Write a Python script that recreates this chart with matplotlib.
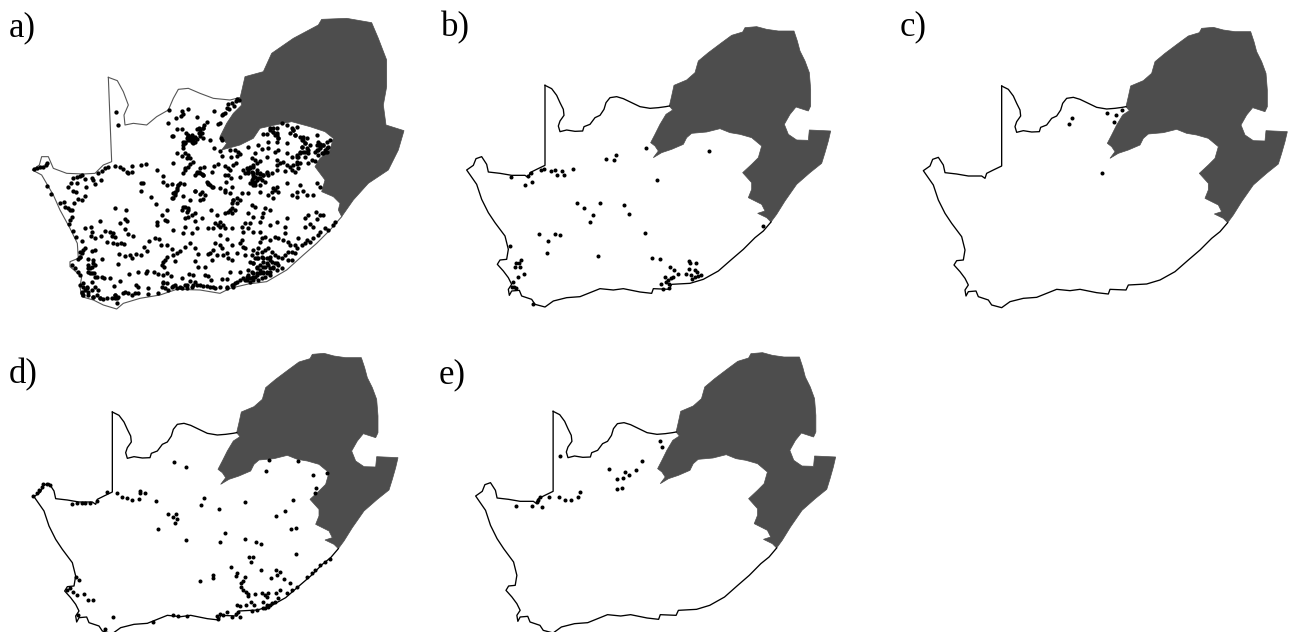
import numpy as np
import matplotlib
matplotlib.use("Agg")
import matplotlib.pyplot as plt

plt.rcParams['font.family'] = ['Liberation Serif', 'DejaVu Serif']

DARK = '#4d4d4d'

# map outline (units are 1/3 px)
north_border = [(365,228),(385,238),(400,258),(410,280),(420,300),(422,318),(410,335),(405,350),(410,367),(430,362),(455,366),(478,365),(482,352),(500,345),(515,325),(530,318),(542,300),(548,280),(560,265),(580,262),(600,268),(625,280),(650,292),(680,297),(705,295),(727,292),(738,290)]
coast = [(1043,638),(1020,665),(995,685),(960,720),(925,750),(885,785),(840,810),(800,822),(745,825),(738,840),(690,838),(685,852),(650,848),(600,838),(570,842),(530,838),(500,850),(470,862),(430,865),(390,875),(365,893),(335,885),(325,870),(295,860),(288,843),(265,845),(258,858),(255,840),(265,825),(255,805),(240,785),(222,765),(230,752),(250,750),(255,720),(245,680),(215,640),(195,610),(175,570),(160,525),(130,482),(150,468),(158,448),(175,442),(190,465),(195,488),(230,492),(265,498),(305,498),(315,505),(320,490),(340,480),(365,468),(365,228)]
dark_region = [(738,290),(745,260),(752,228),(790,212),(815,190),(825,155),(855,130),(895,100),(925,78),(958,68),(965,55),(1000,52),(1030,60),(1065,65),(1112,65),(1122,95),(1130,125),(1145,155),(1158,190),(1162,240),(1162,290),(1155,305),(1118,293),(1100,315),(1083,345),(1095,375),(1120,392),(1155,393),(1158,362),(1222,365),(1215,395),(1205,430),(1195,462),(1160,490),(1120,525),(1085,575),(1060,615),(1043,638),(1030,625),(1003,612),(1025,605),(1015,585),(975,565),(985,540),(985,520),(958,490),(985,465),(1005,445),(1015,410),(985,385),(950,375),(920,370),(890,358),(850,368),(805,372),(790,385),(780,405),(745,420),(715,430),(690,445),(705,425),(695,410),(682,400),(695,375),(710,345),(728,315),(748,302)]

# panel a was drawn from a different base map
north_border_a = [(325,202),(352,212),(370,245),(385,285),(372,315),(375,345),(400,340),(440,345),(470,320),(505,300),(520,265),(535,238),(565,235),(600,250),(640,265),(690,270),(722,262)]
coast_a = [(1025,620),(990,660),(950,700),(910,735),(860,780),(800,815),(745,822),(690,835),(660,850),(600,840),(530,838),(480,855),(420,865),(370,880),(350,897),(310,885),(280,870),(245,860),(240,830),(245,800),(210,770),(210,755),(235,745),(232,700),(210,655),(180,600),(160,555),(125,495),(97,480),(118,465),(125,440),(145,440),(160,475),(200,490),(250,492),(285,490),(310,465),(335,455),(325,202)]
dark_region_a = [(720,265),(735,200),(790,185),(815,130),(880,85),(955,45),(965,28),(1040,25),(1115,38),(1135,85),(1160,150),(1160,230),(1150,285),(1158,345),(1212,362),(1195,420),(1165,480),(1105,520),(1060,570),(1025,620),(1015,600),(1020,580),(1000,560),(965,545),(975,510),(945,470),(960,445),(990,420),(1000,385),(975,365),(930,350),(875,335),(825,345),(780,355),(760,385),(720,405),(665,420),(680,400),(660,380),(680,340),(700,310),(725,285)]

# panel a records, read in three crops
a_top_left = [(348,305),(355,345)]
a_north = [(232,42),(238,45),(228,48),(215,55),(205,58),(222,62),(200,70),(207,73),(195,85),(185,90),(190,88),(162,77),(83,73),(65,78),(68,88),(62,92),(48,99),(27,75),(25,113),(110,97),(140,110),(133,120),(128,128),(118,128),(110,133),(125,145),(120,152),(130,160),(85,150),(78,143),(90,155),(95,160),(100,155),(105,160),(85,165),(95,170),(105,170),(75,172),(70,180),(68,188),(50,133),(65,133),(35,153),(40,153),(150,165),(180,115),(175,118),(183,158),(187,165),(162,190),(180,197),(210,195),(225,195),(235,200),(240,207),(232,213),(212,215),(185,213),(52,205),(65,212),(75,205),(85,210),(90,218),(82,218),(38,233),(100,230),(90,237),(83,245),(75,255),(75,250),(120,250),(133,245),(110,260),(118,262),(125,268),(130,270),(105,270),(70,265),(10,272),(8,292),(155,262),(162,242),(175,237),(195,243),(205,250),(210,255),(228,235),(220,240),(195,270),(205,270),(212,280),(198,290),(140,290),(150,300),(160,305),(145,297),(60,295),(55,300),(50,310),(45,320),(40,325),(72,298),(20,300),(35,298),(105,318),(125,320),(180,310),(195,315),(215,305),(240,275),
           (250,255),(262,250),(270,245),(280,240),(290,235),(255,265),(265,262),(275,260),(280,270),(290,265),(300,268),(285,275),(295,280),(305,285),(275,285),(285,290),(270,295),(280,300),(310,270),(320,260),(325,270),(335,265),(315,290),(300,300),(340,310),(335,320),(350,305),(380,295),(350,240),(360,235),(370,232),(380,240),(390,245),(400,240),(410,238),(420,235),(395,255),(405,260),(415,250),(375,258),(350,255),
           (310,148),(320,147),(330,130),(340,130),(350,128),(340,140),(345,150),(352,145),(355,160),(350,170),(365,115),(380,120),(395,128),(400,135),(405,150),(390,145),(380,175),(420,155),(430,165),(435,175),(425,185),(430,200),(420,205),(440,190),(445,205),(435,215),(415,215),(410,215),(440,160),(470,150),(475,170),(480,178),(490,180),(500,170),(505,185),(495,195),(490,205),(480,190),(470,195),(475,210),(500,200),(510,165),(455,225),(465,228),(445,235),(325,170),(325,190),(305,192),(295,180),(285,205),(265,185),(285,225),(275,218),(300,228),(320,215),(345,200),(350,225),(355,195),(380,205),(395,215),(410,232),(470,295),(480,305),(420,300),(410,322),(430,318),(345,315)]
a_west = [(50,38),(48,45),(40,50),(30,52),(20,55),(12,58),(130,85),(140,82),(150,78),(155,75),(122,100),(115,112),(140,100),(165,88),(185,85),(190,90),(212,90),(195,102),(205,70),(215,62),(225,55),(235,50),(255,47),(270,52),(280,58),(290,65),(295,70),(305,65),(305,48),(332,45),(347,43),(382,60),(50,108),(62,132),(130,122),(138,127),(168,112),(165,138),(155,150),(143,148),(132,160),(103,155),(90,158),(105,170),(115,175),(120,180),(127,180),(125,200),(120,210),(118,222),(128,243),(138,262),(155,272),(183,232),(185,245),(165,235),(183,258),(195,265),(212,258),(210,212),(225,243),(240,245),(250,250),(245,258),(255,262),(232,277),(250,278),(262,283),(272,278),(283,282),(270,218),(285,208),(290,212),(285,237),(295,252),(310,257),(255,173),(287,180),(333,100),(338,100),(333,122),(363,140),(377,162),(358,272),(375,265),(388,267),(342,290),(350,303),(394,285),(412,285),(165,295),(160,300),(155,310),(150,320),(145,328),(195,300),(185,303),(190,330),(215,328),(175,327),(268,312),(285,318),(300,315),(305,325),(318,312),(332,315),(263,342),
          (125,345),(135,355),(145,365),(150,375),(175,345),(180,355),(175,365),(185,370),(190,340),(195,345),(193,370),(200,380),(215,380),(222,385),(185,395),(240,385),(150,405),(160,410),(170,415),(155,425),(160,435),(175,425),(185,420),(195,410),(205,420),(200,435),(210,445),(220,447),(230,445),(190,440),(253,407),(270,393),(298,373),(323,367),(347,370),(350,363),(372,365),(385,372),(400,375),(410,370),(403,352),(395,345),(255,435),(255,445),(278,430),(285,425),(295,430),(305,435),(315,430),(325,430),(318,405),(325,410),(355,415),(355,432),(385,430),(262,460),(245,443),(400,400),(395,410),(405,415),(415,420),(380,225),(380,215),(395,195),(405,210),(410,213),(412,180),(410,320),(405,330),(400,335)]
a_south = [(10,120),(45,112),(40,128),(65,128),(80,115),(115,115),(55,80),(45,85),(75,70),(75,92),(95,83),(35,60),(40,50),(55,55),(50,65),(60,30),(90,30),(100,28),(90,12),(105,15),(75,3),(15,15),(5,25),(40,18),(122,60),(140,75),(165,70),(175,65),(185,55),(185,40),(190,30),(200,25),(180,10),(165,5),(215,8),(235,10),(210,30),(245,45),(255,50),(285,55),(300,60),(235,70),(250,80),(280,70),(275,80),(270,95),(320,95),(300,105),(345,110),(350,85),(325,5),(310,25),(270,5),(295,15),(365,15),(380,20),(410,15),(430,15),(415,75),(405,85),(438,65),(450,75),(460,75),(440,88),(420,102),(405,112),(430,112),(495,95),(490,105),(475,120),(465,115),(450,125),(445,135),(430,145),(420,155),(410,150),(405,160),(395,165),(385,145),(375,165),(380,175),(375,190),(365,185),(360,165),(355,155),(340,150),(345,130),(325,145),(315,140),(300,150),(270,155),(275,145),(285,140),(250,125),(270,125),(220,125),(215,110),(225,100),(240,98),(235,115),(150,95),(160,105),(145,105),(135,100),(150,110),(165,115),(185,115),(130,115),(150,135),(170,148),(185,165),(210,160),(215,150),(220,170),(225,175),(135,158),(150,165),(155,175),(130,180),(120,190),(115,192),(200,190),(170,188),(225,195),(140,195),(160,195),
           (60,158),(75,175),(45,170),(30,183),(20,188),(10,195),(5,178),(15,212),(75,212),(85,192),(125,210),(105,230),(85,232),(175,205),(185,210),(180,245),(210,245),(155,268),(172,268),(122,270),(105,255),(70,255),(58,252),(35,263),(3,258),(75,275),(60,272),(115,258),
           (5,290),(20,295),(35,295),(50,293),(65,290),(80,285),(100,287),(120,290),(135,295),(170,295),(185,285),(190,290),(195,280),(200,275),(15,285),(45,285),(210,270),(220,265),(225,270),(235,255),(245,265),(255,260),(265,270),(235,240),(245,245),
           (240,215),(250,220),(255,205),(260,190),(250,180),(265,175),(275,185),(285,180),(295,175),(305,185),(315,195),(325,200),(335,205),(345,195),(355,210),(365,210),(355,185),(260,235),(270,225),(280,215),(290,205),(300,200),(285,230),(295,225),(305,215),(315,220),(325,225),(335,235),(320,240),(310,235),(300,245),(290,250),(280,245),(270,250),(260,255),(250,250),(300,255),(285,260),(275,265),(250,270),(240,275),(230,262),(265,205),(275,200),(245,195)]
# the dense blobs of panel a, in the panel's own units
a_blobs = [(565,378),(575,375),(585,380),(570,390),(580,392),(590,388),(560,385),(578,400),(555,400),(550,395),(600,360),(610,355),(598,370),
           (905,410),(915,400),(925,420),(900,425),(890,435),(915,425),(930,405),(905,390),(910,380),(880,360),(885,375),(890,350),(960,410),(970,405),(980,415),(955,420),(965,430),(975,425),(945,425),(950,405),(820,365),(830,375),(810,360),(835,385),
           (760,490),(770,480),(750,475),(745,490),(780,490),(790,495),(760,505),(770,510),(780,505),(755,520),(765,525),(800,490),(760,470),(745,480),
           (790,770),(800,760),(810,775),(820,770),(780,780),(770,790),(790,790),(800,785),(760,800),(750,805),(740,810),(770,770),(830,760),(760,760),(770,745),(790,745),(810,750),
           (245,850),(255,840),(260,830),(250,820),(265,855),(280,860),(300,865),(345,855),(355,860),(270,790),(275,770),(265,775),(285,800),(240,740),(240,725),(350,865),
           (540,830),(560,825),(580,825),(600,825),(620,828),(640,830),(660,832),(680,830),(520,828),(500,820),(490,815),(700,825),
           (700,570),(710,580),(690,600),(705,600),(695,610),(530,540),(525,550),(535,525),(520,565),(555,590),(565,600),(575,615),(600,490),(610,495),(590,490),(625,520),(635,530)]

b_points = [(589,415),(467,448),(493,450),(497,436),(778,422),(621,509),(272,481),(283,476),(304,484),(315,479),(335,482),(368,476),(182,502),(235,497),(242,490),(320,495),(341,495),(247,515),(226,526),(381,579),(401,595),(450,578),(522,584),(538,611),(429,614),(421,636),(266,673),(315,673),(331,675),(293,692),(584,669),(939,648),(181,707),(290,728),(445,739),(606,743),(630,748),(213,750),(206,758),(197,759),(196,771),(210,770),(222,793),(203,801),(190,815),(185,830),(192,830),(197,835),(660,770),(672,781),(685,793),(645,801),(664,805),(668,802),(708,791),(717,753),(720,760),(738,759),(718,778),(735,780),(742,785),(722,795),(752,795),(735,800),(745,798),(726,808),(655,810),(648,817),(658,823),(634,823),(640,837),(657,833),(250,882)]
c_points = [(577,325),(568,342),(665,488),(682,310),(708,315),(727,300),(703,337)]
d_points = [(523,365),(557,382),(808,360),(893,363),(798,394),(939,404),(980,400),(949,444),(945,460),(880,481),(855,513),(828,528),(735,487),(657,508),(611,475),(602,494),(467,482),(420,453),(420,460),(435,459),(416,476),(395,479),(380,475),(365,470),(350,460),(320,457),(290,483),(270,488),(255,489),(245,489),(230,490),(217,491),(130,432),(125,440),(118,450),(110,458),(100,467),(140,432),(150,435),(505,523),(518,530),(528,522),(530,537),(525,548),(475,568),(557,601),(675,580),(660,606),(735,597),(769,605),(784,611),(872,566),(889,565),(887,642),(748,650),(758,652),(752,665),(694,682),(712,700),(708,708),(735,710),(730,722),(640,705),(638,713),(600,722),(784,689),(827,690),(840,696),(830,705),(814,714),(852,717),(870,728),(722,730),(722,740),(730,750),(738,755),(745,762),(765,762),(745,768),(710,795),(720,797),(738,795),(752,785),(763,795),(785,760),(795,765),(805,760),(800,772),(790,785),(800,795),(810,795),(795,805),(805,800),(815,790),(790,805),(770,810),(755,812),(825,785),(835,775),(828,760),(840,750),(860,760),(875,750),(890,740),(920,710),(935,700),(945,690),(960,675),(975,665),(990,658),(237,720),(228,712),(200,750),(210,745),(220,755),(232,765),(252,762),(265,781),(280,781),(235,825),(340,830),(315,868),(460,845),(520,826),(535,828),(560,828),(650,828),(660,822),(655,838),(670,825),(680,815),(695,830),(715,815),(720,830),(708,822)]
e_points = [(390,347),(689,303),(697,322),(636,363),(617,391),(598,405),(585,395),(580,413),(562,416),(538,387),(575,443),(561,448),(449,456),(445,471),(423,480),(405,480),(388,470),(358,470),(330,472),(325,480),(320,486),(336,502),(305,498),(258,498)]

labels = ['a)', 'b)', 'c)', 'd)', 'e)']


def panel_axes(x0, y0, w, h):
    # window in figure px, data units are 1/3 px from its corner
    ax = fig.add_axes([x0/1290, 1-(y0+h)/632, w/1290, h/632])
    ax.set_xlim(0, w*3)
    ax.set_ylim(h*3, 0)
    ax.axis('off')
    return ax


def draw_map(ax, north, shore, dark, sx=1, sy=1, dx=0, dy=0, line='black', lw=0.95):
    land = np.array(north + shore, dtype=float)
    dk = np.array(dark, dtype=float)
    ax.fill(land[:, 0]*sx+dx, land[:, 1]*sy+dy, color='white', lw=0)
    ax.fill(dk[:, 0]*sx+dx, dk[:, 1]*sy+dy, facecolor=DARK, edgecolor=DARK, lw=0.5)
    ax.plot(np.array([p[0] for p in north])*sx+dx, np.array([p[1] for p in north])*sy+dy, color=line, lw=lw)
    ax.plot(np.array([p[0] for p in shore])*sx+dx, np.array([p[1] for p in shore])*sy+dy, color=line, lw=lw)


def draw_points(ax, pts, ms=2.9, dx=0, dy=0):
    ax.plot([p[0]+dx for p in pts], [p[1]+dy for p in pts], 'o', color='black', ms=ms, mew=0)


fig = plt.figure(figsize=(12.9, 6.32), dpi=100, facecolor='white')

ax_a = panel_axes(0, 10, 420, 310)
draw_map(ax_a, north_border_a, coast_a, dark_region_a, line='#555555', lw=0.8)
draw_points(ax_a, a_top_left, ms=3.1)
draw_points(ax_a, a_north, ms=3.1, dx=480, dy=225)
draw_points(ax_a, a_west, ms=3.1, dx=90, dy=420)
draw_points(ax_a, a_south, ms=3.1, dx=510, dy=540)
draw_points(ax_a, a_blobs, ms=3.1)

ax_b = panel_axes(450, 10, 400, 310)
draw_map(ax_b, north_border, coast, dark_region, dx=-80, dy=-2)
draw_points(ax_b, b_points)

ax_c = panel_axes(880, 10, 410, 310)
draw_map(ax_c, north_border, coast, dark_region)
draw_points(ax_c, c_points)

ax_d = panel_axes(0, 340, 420, 292)
draw_map(ax_d, north_border, coast, dark_region, dx=-28, dy=-12)
draw_points(ax_d, d_points)

ax_e = panel_axes(430, 340, 420, 292)
draw_map(ax_e, north_border, coast, dark_region, sx=0.989, dx=8.4, dy=-14)
draw_points(ax_e, e_points)

label_x = [9, 441, 900, 9, 439]
label_y = [36, 36, 35, 383, 383]
for s, lx, ly in zip(labels, label_x, label_y):
    fig.text(lx/1290, 1-ly/632, s, fontsize=25, color='black', va='baseline', ha='left')

fig.savefig('out.png', dpi=100, facecolor='white')
